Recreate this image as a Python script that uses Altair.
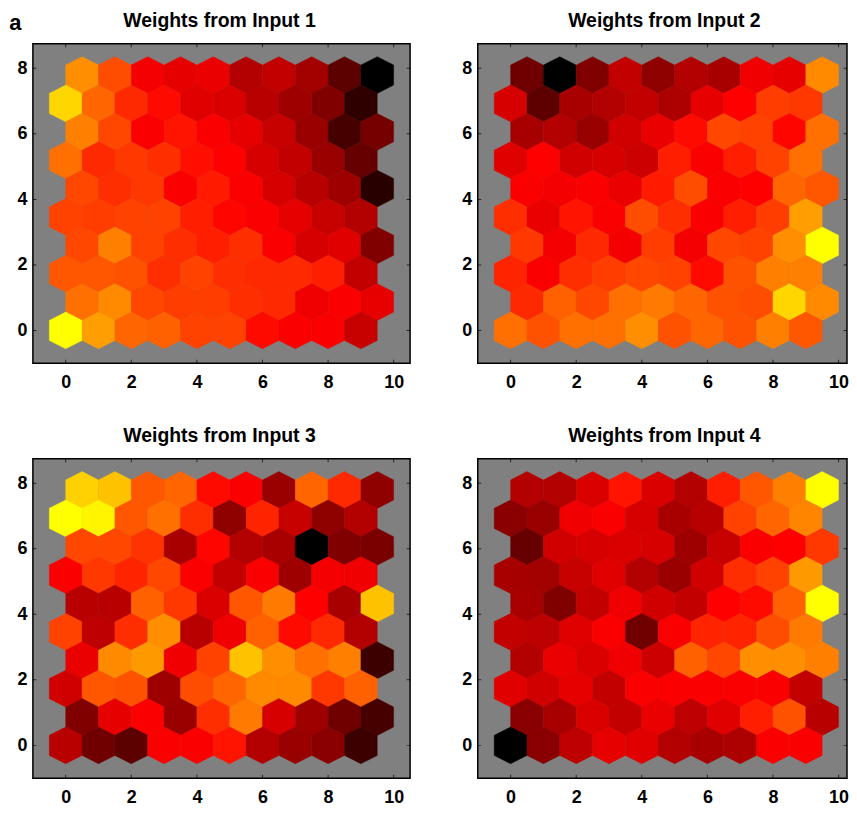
import altair as alt
import pandas as pd

# Levels 0-100 on the hot colour map, rows listed top (row 9) to bottom (row 0)
input_1 = [
    [78, 65, 48, 45, 46, 35, 38, 32, 18, 0],
    [92, 70, 58, 52, 44, 43, 36, 31, 25, 9],
    [75, 64, 49, 54, 49, 45, 39, 30, 14, 23],
    [72, 58, 61, 59, 53, 50, 42, 38, 30, 20],
    [64, 59, 61, 49, 55, 49, 42, 36, 31, 8],
    [63, 62, 63, 63, 56, 51, 49, 45, 39, 35],
    [64, 75, 63, 59, 56, 59, 49, 42, 44, 25],
    [67, 67, 66, 59, 63, 59, 58, 58, 56, 38],
    [72, 77, 64, 62, 62, 59, 58, 47, 49, 45],
    [100, 81, 70, 69, 63, 63, 52, 49, 49, 39],
]
input_2 = [
    [22, 0, 25, 38, 28, 35, 33, 47, 45, 77],
    [42, 18, 33, 35, 38, 34, 45, 50, 62, 61],
    [33, 35, 30, 41, 46, 52, 64, 63, 51, 72],
    [44, 50, 41, 42, 40, 56, 49, 56, 63, 72],
    [49, 48, 49, 46, 55, 65, 49, 50, 70, 67],
    [59, 46, 54, 49, 65, 59, 49, 56, 62, 81],
    [61, 48, 58, 48, 62, 48, 64, 63, 78, 100],
    [57, 49, 59, 62, 64, 63, 52, 66, 75, 75],
    [58, 69, 64, 72, 74, 70, 66, 65, 92, 77],
    [72, 66, 72, 72, 78, 66, 70, 66, 75, 67],
]
input_3 = [
    [91, 88, 67, 70, 52, 49, 30, 70, 58, 28],
    [100, 98, 67, 72, 59, 28, 57, 39, 28, 35],
    [64, 64, 60, 33, 51, 35, 33, 0, 25, 24],
    [49, 61, 57, 64, 49, 38, 49, 31, 48, 47],
    [36, 36, 69, 61, 43, 67, 74, 50, 33, 88],
    [63, 37, 59, 78, 36, 47, 69, 52, 58, 35],
    [46, 77, 80, 47, 63, 88, 78, 72, 75, 12],
    [41, 67, 66, 31, 65, 70, 77, 77, 61, 69],
    [25, 45, 49, 30, 59, 74, 42, 31, 22, 14],
    [36, 22, 18, 49, 49, 54, 35, 30, 27, 12],
]
input_4 = [
    [35, 35, 43, 54, 43, 35, 56, 67, 75, 100],
    [27, 30, 47, 49, 42, 33, 36, 63, 70, 76],
    [20, 41, 42, 43, 42, 31, 39, 49, 50, 61],
    [33, 32, 39, 44, 35, 30, 41, 59, 63, 80],
    [33, 25, 38, 47, 41, 38, 50, 52, 69, 100],
    [38, 37, 44, 49, 22, 49, 57, 57, 65, 74],
    [35, 46, 43, 47, 40, 69, 64, 78, 78, 75],
    [44, 41, 45, 38, 49, 49, 49, 49, 49, 38],
    [27, 33, 43, 38, 46, 37, 44, 56, 66, 36],
    [0, 27, 37, 45, 44, 35, 33, 34, 49, 49],
]
titles = ["Weights from Input 1", "Weights from Input 2", "Weights from Input 3", "Weights from Input 4"]
x_ticks = [0, 2, 4, 6, 8, 10]
y_ticks = [0, 2, 4, 6, 8]
x_domain_left = [-1, 10.5]
x_domain_right = [-1, 10.257]  # the page's right edge trims the right-hand panels
y_domain = [-1, 8.75]
ROW_STEP = 0.866

HEX = "M0,-1L.889,-.546L.889,.546L0,1L-.889,.546L-.889,-.546Z"
FONT = "Liberation Sans"
ys = alt.Scale(domain=y_domain, nice=False, zero=False)
hot = alt.Scale(domain=[0, 50, 100], range=["#000000", "#ff0000", "#ffff00"], interpolate="rgb")
x_axis = alt.Axis(values=x_ticks, grid=False, ticks=False, domain=False, labelPadding=10, title=None,
                  labelFontSize=18, labelFont=FONT, labelFontWeight="bold", labelColor="black",
                  minExtent=28, maxExtent=28)
y_axis = alt.Axis(values=y_ticks, grid=False, ticks=False, domain=False, labelPadding=6, title=None,
                  labelFontSize=18, labelFont=FONT, labelFontWeight="bold", labelColor="black",
                  minExtent=24, maxExtent=24)


def panel(levels, title, x_domain, width):
    xs = alt.Scale(domain=x_domain, nice=False, zero=False)
    rows = []
    for k, row in enumerate(levels):
        r = 9 - k
        for c, v in enumerate(row):
            rows.append({"x": c + (0.5 if r % 2 else 0), "y": r * ROW_STEP, "v": v})
    hexes = alt.Chart(pd.DataFrame(rows)).mark_point(
        filled=True, shape=HEX, size=1369, opacity=1, strokeWidth=0.4
    ).encode(
        x=alt.X("x:Q", scale=xs, axis=x_axis),
        y=alt.Y("y:Q", scale=ys, axis=y_axis),
        color=alt.Color("v:Q", scale=hot, legend=None),
        stroke=alt.Stroke("v:Q", scale=hot, legend=None),
    )
    xt = pd.DataFrame([{"t": t, "e": e} for t in x_ticks for e in y_domain])
    yt = pd.DataFrame([{"t": t, "e": e} for t in y_ticks for e in x_domain])
    xticks = alt.Chart(xt).mark_tick(orient="vertical", size=7, thickness=1, color="black", clip=True).encode(
        x=alt.X("t:Q", scale=xs, axis=x_axis), y=alt.Y("e:Q", scale=ys, axis=y_axis))
    yticks = alt.Chart(yt).mark_tick(orient="horizontal", size=7, thickness=1, color="black", clip=True).encode(
        x=alt.X("e:Q", scale=xs, axis=x_axis), y=alt.Y("t:Q", scale=ys, axis=y_axis))
    return alt.layer(hexes, xticks, yticks).properties(
        width=width, height=321,
        title=alt.TitleParams(title, font=FONT, fontSize=19.5, fontWeight="bold", color="black",
                              anchor="middle", frame="group", dx=(379 - width) / 2 - 2, offset=12.5),
    )


top = alt.hconcat(panel(input_1, titles[0], x_domain_left, 379),
                  panel(input_2, titles[1], x_domain_right, 371), spacing=42)
bottom = alt.hconcat(panel(input_3, titles[2], x_domain_left, 379),
                     panel(input_4, titles[3], x_domain_right, 371), spacing=42)
chart = alt.vconcat(top, bottom, spacing=32.9).properties(
    padding={"left": 0, "top": 0, "right": -1, "bottom": 0}, background="white",
    title=alt.TitleParams("a", font=FONT, fontSize=22, fontWeight="bold", color="black",
                          anchor="start", frame="bounds", offset=-24.5, dx=1),
).configure_view(fill="#808080", stroke="black", strokeWidth=1.5)
chart.save("out.html", embed_options={"renderer": "svg", "actions": False})
